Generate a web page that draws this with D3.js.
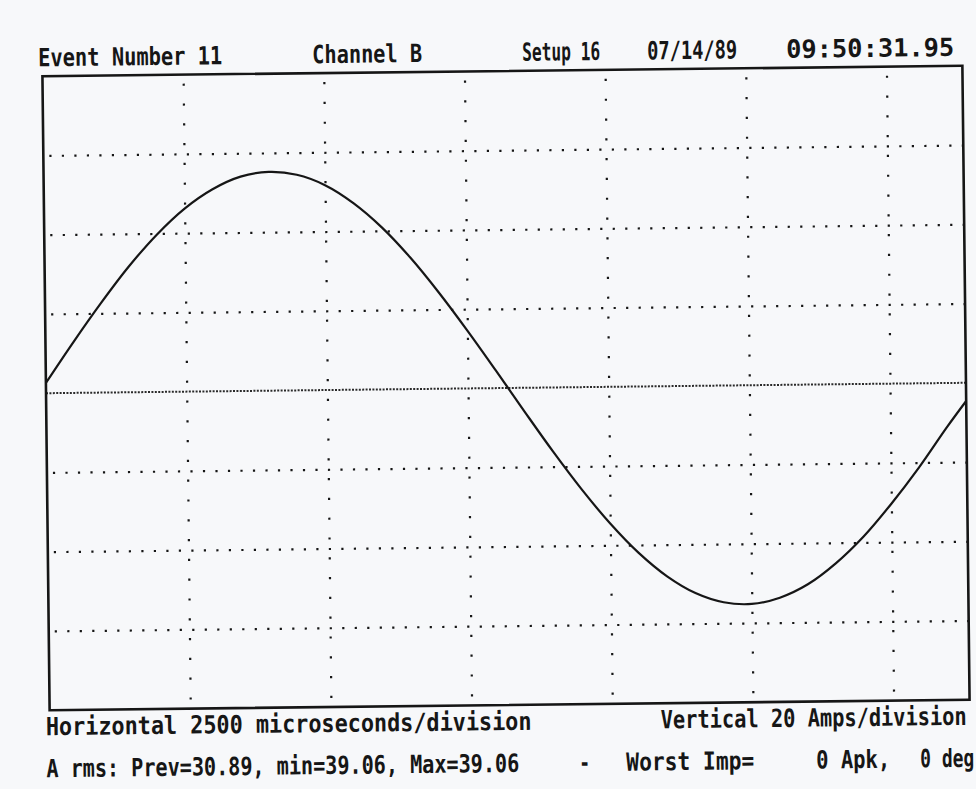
<!DOCTYPE html>
<html>
<head>
<meta charset="utf-8">
<script src="https://cdn.jsdelivr.net/npm/d3@7"></script>
<style>
  html, body { margin: 0; padding: 0; background: #f7f8fa; }
  svg { display: block; }
  text { font-family: "DejaVu Sans Mono", "Liberation Mono", monospace; font-weight: bold; fill: #161616; }
</style>
</head>
<body>
<div id="scope"></div>
<script>
const timeUs = [0, 500, 1000, 1500, 2000, 2500, 3000, 3500, 4000, 4500, 5000, 5500,
  6000, 6500, 7000, 7500, 8000, 8500, 9000, 9500, 10000, 10500, 11000, 11500,
  12000, 12500, 13000, 13500, 14000, 14500, 15000, 15500, 16000, 16350];
const currentA = [2.6, 12.9, 22.7, 31.8, 39.7, 46.2, 51.0, 54.1, 55.2, 54.4, 51.7, 47.1,
  40.9, 33.2, 24.3, 14.6, 4.4, -6.0, -16.2, -25.8, -34.5, -42.0, -48.0, -52.3,
  -54.7, -55.2, -53.7, -50.4, -45.2, -38.5, -30.3, -21.2, -11.2, -4.6];

// 2500 us / division, 20 A / division
const timeTicks = [2500, 5000, 7500, 10000, 12500, 15000];
const ampTicks = [-60, -40, -20, 20, 40, 60];
const timeDomain = [0, 16350];
const ampDomain = [-80, 80];

const headerLabels = ["Event Number 11", "Channel B", "Setup 16", "07/14/89", "09:50:31.95"];
const footerLine1 = ["Horizontal 2500 microseconds/division", "Vertical 20 Amps/division"];
const footerLine2 = ["A rms: Prev=30.89, min=39.06, Max=39.06", "-", "Worst Imp=", "0 Apk,", "0 deg"];

const W = 976, H = 789;
const frameL = 46, frameR = 966, frameT = 71, frameB = 705;
const ink = "#161616";

const svg = d3.select("#scope").append("svg").attr("width", W).attr("height", H);
svg.append("rect").attr("width", W).attr("height", H).attr("fill", "#f7f8fa");

// the scan is slightly rotated
const g = svg.append("g").attr("transform", "rotate(-0.65, 506, 388)");

const x = d3.scaleLinear().domain(timeDomain).range([frameL, frameR]);
const y = d3.scaleLinear().domain(ampDomain).range([frameB, frameT]);

// vertical dotted grid
const gx = g.append("g")
  .attr("transform", `translate(0,${frameB})`)
  .call(d3.axisBottom(x).tickValues(timeTicks).tickSize(-(frameB - frameT)).tickFormat(""));
gx.select(".domain").remove();
gx.selectAll(".tick line")
  .attr("stroke", ink).attr("stroke-width", 2.2)
  .attr("stroke-dasharray", "2.2,17.6").attr("stroke-dashoffset", -9);

// horizontal dotted grid
const gy = g.append("g")
  .attr("transform", `translate(${frameL},0)`)
  .call(d3.axisLeft(y).tickValues(ampTicks).tickSize(-(frameR - frameL)).tickFormat(""));
gy.select(".domain").remove();
gy.selectAll(".tick line")
  .attr("stroke", ink).attr("stroke-width", 2.2)
  .attr("stroke-dasharray", "2.2,10.3").attr("stroke-dashoffset", -6);

// zero line, dense dots
g.append("line")
  .attr("x1", frameL).attr("x2", frameR)
  .attr("y1", y(0)).attr("y2", y(0))
  .attr("stroke", "#2a2a2a").attr("stroke-width", 2)
  .attr("stroke-dasharray", "2,1.4");

// trace
const line = d3.line()
  .x((d, i) => x(timeUs[i]))
  .y(d => y(d))
  .curve(d3.curveCatmullRom);
g.append("path")
  .datum(currentA)
  .attr("d", line)
  .attr("fill", "none")
  .attr("stroke", ink)
  .attr("stroke-width", 2.2);

// frame
g.append("rect")
  .attr("x", frameL).attr("y", frameT)
  .attr("width", frameR - frameL).attr("height", frameB - frameT)
  .attr("fill", "none").attr("stroke", ink).attr("stroke-width", 2.6);

// labels: [x start, width]; printer font is tall and narrow
const fontPx = 20.5, advance = fontPx * 0.602;
function place(labels, spots, baseline) {
  g.selectAll(null).data(labels).join("text")
    .attr("transform", (d, i) => {
      const sx = spots[i][1] / (d.length * advance);
      return `translate(${spots[i][0]},${baseline}) scale(${sx.toFixed(3)},1.22)`;
    })
    .attr("font-size", fontPx)
    .text(d => d);
}
place(headerLabels, [[42, 184], [316, 110], [526, 78], [651, 90], [790, 168]], 61);
place(footerLine1, [[42, 486], [657, 306]], 730);
place(footerLine2, [[42, 473], [575, 11], [622, 128], [812, 74], [916, 54]], 772);
</script>
</body>
</html>
